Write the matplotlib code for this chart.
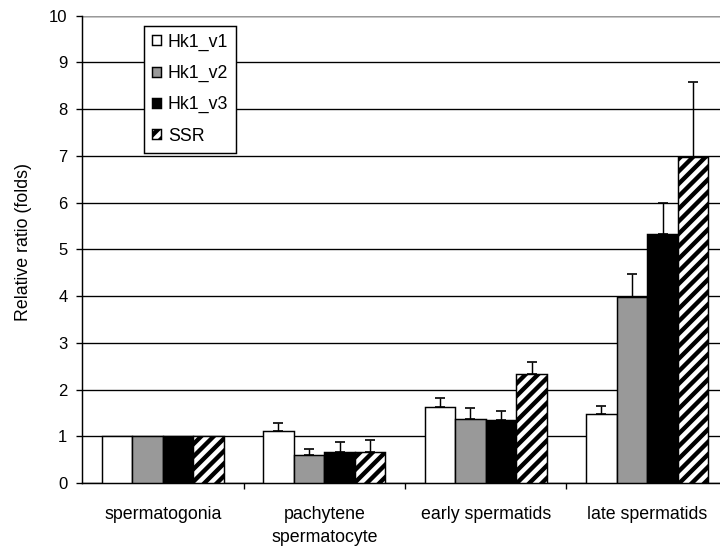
import numpy as np
import matplotlib
matplotlib.use("Agg")
import matplotlib.pyplot as plt

# cell stages and relative expression (fold change) per transcript
stages = ["spermatogonia", "pachytene\nspermatocyte", "early spermatids", "late spermatids"]
series = ["Hk1_v1", "Hk1_v2", "Hk1_v3", "SSR"]

hk1_v1 = [1.0, 1.12, 1.63, 1.47]
hk1_v2 = [1.0, 0.60, 1.38, 3.97]
hk1_v3 = [1.0, 0.66, 1.35, 5.33]
ssr = [1.0, 0.66, 2.33, 6.97]

# upper error (SD)
hk1_v1_err = [0, 0.17, 0.18, 0.18]
hk1_v2_err = [0, 0.13, 0.22, 0.51]
hk1_v3_err = [0, 0.21, 0.20, 0.67]
ssr_err = [0, 0.25, 0.25, 1.61]

plt.rcParams['font.family'] = ['Liberation Sans', 'DejaVu Sans']
plt.rcParams['hatch.linewidth'] = 4.2
plt.rcParams['hatch.color'] = 'black'

fig = plt.figure(figsize=(9.6, 7.32), dpi=75)
ax = fig.add_axes([0.1139, 0.1202, 0.8972, 0.8512])

x = np.arange(len(stages))
w = 0.189
offsets = [-1.5 * w, -0.5 * w, 0.5 * w, 1.5 * w]
values = [hk1_v1, hk1_v2, hk1_v3, ssr]
errors = [hk1_v1_err, hk1_v2_err, hk1_v3_err, ssr_err]
fills = ['white', '#999999', 'black', 'white']
hatches = [None, None, None, '//']

handles = []
for vals, errs, off, fc, h, name in zip(values, errors, offsets, fills, hatches, series):
    b = ax.bar(x + off, vals, width=w, color=fc, edgecolor='black', linewidth=1.4,
               hatch=h, zorder=3, label=name)
    handles.append(b)
    vals = np.array(vals)
    errs = np.array(errs)
    m = errs > 0
    ax.errorbar(x[m] + off, vals[m], yerr=[np.zeros(m.sum()), errs[m]], fmt='none',
                ecolor='black', elinewidth=1.4, capsize=5, capthick=1.6, zorder=2)

ax.set_xlim(-0.5, 3.5)
ax.set_ylim(0, 10)
ax.set_yticks(range(0, 11))
ax.yaxis.grid(True, color='black', linewidth=1.3, zorder=0)
ax.set_axisbelow(True)
ax.axhline(10, color='#999999', linewidth=1.3, zorder=1)

ax.set_xticks(x)
ax.set_xticklabels(stages, fontsize=17, linespacing=1.5)
ax.set_xticks([0.5, 1.5, 2.5], minor=True)
ax.tick_params(axis='x', which='major', length=0, pad=22)
ax.tick_params(axis='x', which='minor', length=6, width=1.3, direction='out')
ax.tick_params(axis='y', length=6, width=1.3, labelsize=16, pad=8)

for s in ['top', 'right']:
    ax.spines[s].set_visible(False)
for s in ['left', 'bottom']:
    ax.spines[s].set_linewidth(1.4)

ax.set_ylabel("Relative ratio (folds)", fontsize=17)
ax.yaxis.set_label_coords(-0.0774, 0.516)

leg = ax.legend(handles=handles, loc='upper left', bbox_to_anchor=(0.096, 0.979),
                fontsize=17, frameon=True, fancybox=False, borderpad=0.45,
                handlelength=0.5, handleheight=0.5, handletextpad=0.4,
                labelspacing=0.8, borderaxespad=0)
leg.get_frame().set_edgecolor('black')
leg.get_frame().set_linewidth(1.4)
leg.get_frame().set_alpha(1)
leg.set_zorder(5)

fig.savefig("out.png", dpi=75)
